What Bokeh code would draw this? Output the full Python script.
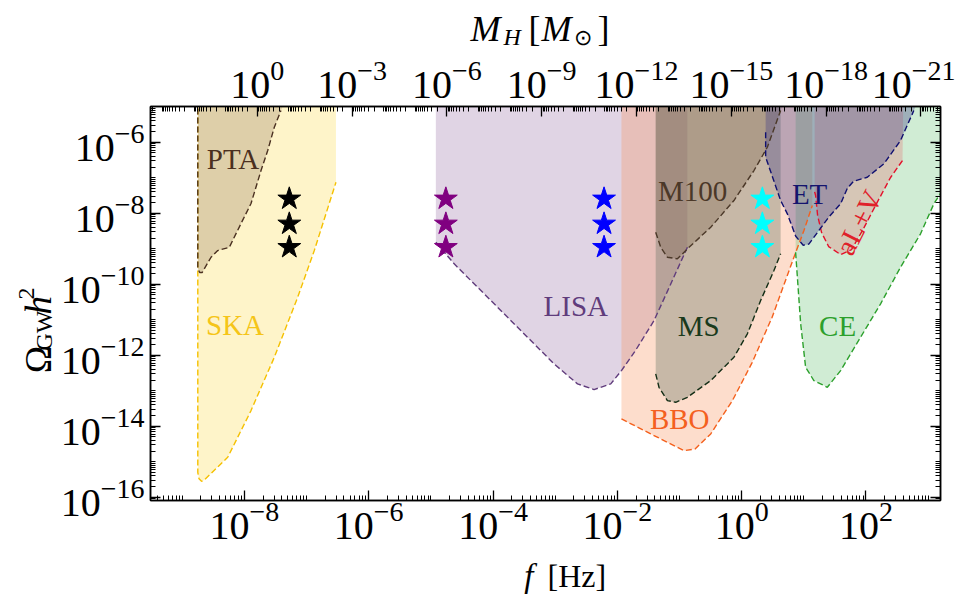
import numpy as np
from bokeh.plotting import figure
from bokeh.layouts import column, row
from bokeh.models import (Range1d, LogAxis, LogScale, FixedTicker,
                          LogTickFormatter, ColumnDataSource)
from bokeh.core.properties import value
from bokeh.embed import file_html
from bokeh.resources import INLINE

# ---------------- data: log10 f [Hz] and log10 Omega_GW h^2 ----------------
TOP = -4.8  # above the plotted range (regions open to the top)

ska_logf = [-8.75, -8.75, -8.73, -8.69, -8.645, -8.269, -7.894, -7.519, -7.143, -6.876, -6.527]
ska_logo = [TOP, -15.30, -15.48, -15.55, -15.51, -14.873, -13.558, -12.056, -10.366, -9.051, -7.127]

pta_logf = [-8.75, -8.75, -8.72, -8.68, -8.537, -8.429, -8.243, -8.055, -7.894, -7.733, -7.625, -7.519, -7.412, -7.34]
pta_logo = [TOP, -9.55, -9.67, -9.67, -9.239, -9.051, -8.958, -8.29, -7.727, -6.797, -6.234, -5.577, -5.107, TOP]

lisa_logf = [-4.92, -4.92, -4.625, -4.088, -3.553, -3.018, -2.641, -2.375, -2.106, -1.934, -1.720, -1.410, -1.195, -0.873]
lisa_logo = [TOP, -8.817, -9.425, -10.366, -11.304, -12.242, -12.806, -12.966, -12.806, -12.431, -11.90, -11.023, -10.20, -8.958]

bbo_logf = [-1.934, -1.934, -1.463, -0.93, -0.75, -0.498, -0.15, 0.17, 0.49, 0.841, 1.002, 1.137]
bbo_logo = [TOP, -13.792, -14.214, -14.685, -14.64, -14.214, -13.28, -12.20, -10.93, -9.239, -8.487, -7.78]

ms_logf = [-1.383, -1.383, -1.330, -1.195, -1.061, -0.873, -0.498, -0.124, 0.092, 0.305, 0.519, 0.627]
ms_logo = [TOP, -12.524, -12.901, -13.276, -13.324, -13.183, -12.713, -12.056, -11.397, -10.459, -9.614, -9.144]

m100_logf = [-1.383, -1.383, -1.302, -1.195, -1.034, -0.873, -0.498, -0.124, 0.198, 0.413, 0.627, 0.691]
m100_logo = [TOP, -8.535, -8.958, -9.239, -9.285, -9.003, -8.394, -7.642, -6.797, -6.141, -5.107, TOP]

et_logf = [0.386, 0.386, 0.386, 0.627, 0.735, 0.87, 0.99, 1.08, 1.243, 1.40, 1.592, 1.70, 1.80, 2.021, 2.288, 2.556, 2.770, 2.846]
et_logo = [TOP, -5.72, -6.42, -7.642, -8.017, -8.65, -8.90, -8.87, -8.487, -8.113, -7.735, -7.30, -7.10, -6.986, -6.608, -5.952, -5.107, TOP]

ce_logf = [0.868, 0.868, 0.949, 1.029, 1.162, 1.378, 1.592, 1.913, 2.235, 2.556, 2.878, 3.092, 3.199, 3.35]
ce_logo = [TOP, -9.10, -11.107, -12.338, -12.713, -12.901, -12.431, -11.493, -10.552, -9.521, -8.580, -7.735, -7.445, -7.0]

alv_logf = [1.174, 1.174, 1.190, 1.222, 1.286, 1.399, 1.592, 1.768, 1.961, 2.170, 2.395, 2.588, 2.60]
alv_logo = [TOP, -7.40, -7.501, -8.065, -8.544, -8.938, -9.163, -9.023, -8.431, -7.727, -6.994, -6.515, TOP]

# benchmark stars
star_logf = [-7.278, -4.759, -2.214, 0.333]
star_logo = [-7.594, -8.299, -8.958]
star_colors = ["black", "#800080", "#0000ff", "#00ffff"]

# region labels
lab_text = ["PTA", "SKA", "LISA", "M100", "MS", "BBO", "ET", "CE", "aL+V"]
lab_logf = [-8.183, -8.151, -2.669, -0.788, -0.691, -0.997, 1.093, 1.543, 1.881]
lab_logo = [-6.459, -11.135, -10.600, -7.361, -11.163, -13.783, -7.445, -11.163, -8.262]
lab_color = ["#4b3020", "#f5c518", "#603c7c", "#4b3828", "#1a3a1c", "#f46020", "#14146e", "#2ca02c", "#e0202a"]
lab_angle = [0, 0, 0, 0, 0, 0, 0, 0, 1.10]

# axis ticks
x_major_exp = [-8, -6, -4, -2, 0, 2]
y_major_exp = [-16, -14, -12, -10, -8, -6]
m_major_exp = [0, -3, -6, -9, -12, -15, -18, -21]

# ---------------- regions (drawing order) ----------------
regions = [
    (ska_logf, ska_logo, "#fcda4b", 0.30, "#f5c000", True, slice(0, None)),
    (pta_logf, pta_logo, "#947b60", 0.30, "#4a3020", False, slice(0, -1)),
    (lisa_logf, lisa_logo, "#9870a5", 0.30, "#603c7c", True, slice(1, None)),
    (bbo_logf, bbo_logo, "#f88e55", 0.30, "#f4601c", True, slice(1, None)),
    (ms_logf, ms_logo, "#4c6254", 0.30, "#142e16", True, slice(1, None)),
    (m100_logf, m100_logo, "#755e44", 0.30, "#4b3828", False, slice(1, -1)),
    (ce_logf, ce_logo, "#62c070", 0.30, "#2ca02c", True, slice(1, None)),
    (alv_logf, alv_logo, "#e76369", 0.28, "#e3102a", False, slice(1, -1)),
    (et_logf, et_logo, "#3e3a88", 0.34, "#101070", False, slice(1, -1)),
]

# ---------------- layout sizes ----------------
W_LEFT = 57      # left title strip (left axis itself takes ~93 px)
H_TOP = 48       # top title strip
H_BOT = 49       # bottom title strip
MB_L, MB_R, MB_T, MB_B = 87, 15, 58, 50
FW, FH = 790, 394
MAIN_H = MB_T + FH + MB_B
TOT_W = W_LEFT + 93 + FW + MB_R

p = figure(frame_width=FW, frame_height=FH, x_axis_type="log", y_axis_type="log",
           x_range=Range1d(10 ** -9.511, 10 ** 3.199),
           y_range=Range1d(10 ** -16.09, 10 ** -4.994),
           output_backend="svg", toolbar_location=None,
           min_border_left=MB_L, min_border_right=MB_R, min_border_top=MB_T, min_border_bottom=MB_B)
p.grid.visible = False
p.outline_line_color = "black"
p.outline_line_width = 1.5
p.background_fill_color = "white"
p.border_fill_color = "white"

for lf, lo, fc, fa, lc, open_right, sl in regions:
    xs = list(lf)
    ys = list(lo)
    if open_right:
        xs = xs + [lf[-1]]
        ys = ys + [TOP]
    p.patch([10.0 ** v for v in xs], [10.0 ** v for v in ys],
            fill_color=fc, fill_alpha=fa, line_color=None)

for lf, lo, fc, fa, lc, open_right, sl in regions:
    p.line([10.0 ** v for v in lf[sl]], [10.0 ** v for v in lo[sl]],
           line_color=lc, line_width=1.4, line_dash="6 3")

for lfx, col in zip(star_logf, star_colors):
    p.scatter([10.0 ** lfx] * len(star_logo), [10.0 ** v for v in star_logo],
              marker="star", size=24, fill_color=col, line_color=col)

src = ColumnDataSource(dict(x=[10.0 ** v for v in lab_logf], y=[10.0 ** v for v in lab_logo],
                            t=lab_text, c=lab_color, a=lab_angle))
p.text(x="x", y="y", text="t", text_color="c", angle="a", source=src,
       text_font=value("Liberation Serif"), text_font_size="29px",
       text_align="center", text_baseline="middle")

# ---------------- axes ----------------
def minors(lo, hi, majors):
    return [k * 10.0 ** e for e in range(lo, hi) for k in range(1, 10)
            if not (k == 1 and e in majors)]

xt = FixedTicker(ticks=[10.0 ** e for e in x_major_exp], minor_ticks=minors(-10, 4, x_major_exp))
yt = FixedTicker(ticks=[10.0 ** e for e in y_major_exp], minor_ticks=minors(-17, -4, y_major_exp))
mt = FixedTicker(ticks=[10.0 ** e for e in m_major_exp], minor_ticks=minors(-23, 4, m_major_exp))

def style(ax, show=True):
    ax.major_tick_in = 10
    ax.major_tick_out = 0
    ax.minor_tick_in = 5
    ax.minor_tick_out = 0
    ax.axis_line_color = "black"
    ax.axis_line_width = 1.5
    ax.major_tick_line_color = "black"
    ax.minor_tick_line_color = "black"
    ax.major_tick_line_width = 1.3
    ax.minor_tick_line_width = 1
    ax.major_label_text_font = "Liberation Serif"
    ax.major_label_text_font_size = "40px" if show else "1px"
    ax.major_label_text_color = "black"
    if not show:
        ax.major_label_text_alpha = 0
    ax.major_label_standoff = 6

bx = p.xaxis[0]
bx.ticker = xt
bx.formatter = LogTickFormatter()
style(bx)
bx.major_label_standoff = 1
ly = p.yaxis[0]
ly.ticker = yt
ly.formatter = LogTickFormatter()
style(ly)

ry = LogAxis(ticker=FixedTicker(ticks=[10.0 ** e for e in y_major_exp],
                                minor_ticks=minors(-17, -4, y_major_exp)))
style(ry, show=False)
p.add_layout(ry, "right")

p.extra_x_ranges = {"mh": Range1d(start=10 ** 3.38, end=10 ** -21.62)}
p.extra_x_scales = {"mh": LogScale()}
tx = LogAxis(x_range_name="mh", ticker=mt, formatter=LogTickFormatter())
style(tx)
tx.major_label_standoff = 9
p.add_layout(tx, "above")

# ---------------- title strips (pixel-unit canvases) ----------------
def strip(w, h):
    f = figure(width=w, height=h, x_range=Range1d(0, w), y_range=Range1d(0, h),
               x_axis_type=None, y_axis_type=None, output_backend="svg",
               toolbar_location=None, min_border=0)
    f.grid.visible = False
    f.outline_line_color = None
    f.background_fill_color = "white"
    f.border_fill_color = "white"
    return f

def put(f, txt, x, y, size, italic=False, angle=0.0, align="left"):
    f.text(x=[x], y=[y], text=[txt], text_font=value("Liberation Serif"),
           text_font_size=f"{size}px", text_font_style="italic" if italic else "normal",
           text_color="black", angle=angle, text_align=align, text_baseline="middle")

# top strip: M_H [M_sun]; arguments are page baselines, converted to strip centres
top = strip(TOT_W, H_TOP)
def put_top(txt, X, Yb, size, italic=False):
    put(top, txt, X, H_TOP - (Yb - 0.25 * size), size, italic)
put_top("M", 470, 37, 36, italic=True)
put_top("H", 503, 42, 24, italic=True)
put_top("[", 528, 37, 36)
put_top("M", 541, 37, 36, italic=True)
put_top("\u2299", 573, 42, 22)
put_top("]", 597, 37, 36)

# left strip: Omega_GW h^2 (rotated); X is the baseline column, Y the start
left = strip(W_LEFT, MAIN_H)
def put_left(txt, Xb, Y, size, italic=False):
    put(left, txt, Xb - 0.25 * size, H_TOP + MAIN_H - Y, size, italic, angle=np.pi / 2)
put_left("\u03a9", 47, 388, 37)
put_left("GW", 49.5, 359, 24)
put_left("h", 47, 313, 37, italic=True)
put_left("2", 32, 294, 24)

# bottom strip: f [Hz]
bot = strip(TOT_W, H_BOT)
bb = H_TOP + MAIN_H + H_BOT
put(bot, "f", 533, bb - (584 - 0.25 * 33), 33, italic=True, align="right")
put(bot, "[Hz]", 547, bb - (584 - 0.25 * 33), 32)

layout = column(top, row(left, p), bot)
open("out.html", "w").write(file_html(layout, INLINE))
